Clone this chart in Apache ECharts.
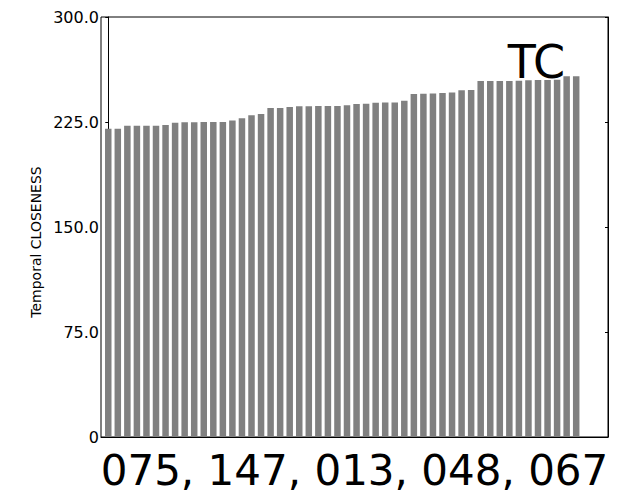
<!DOCTYPE html>
<html>
<head>
<meta charset="utf-8">
<script src="https://cdn.jsdelivr.net/npm/echarts@6/dist/echarts.min.js"></script>
<style>html,body{margin:0;padding:0;background:#fff;}#c{width:621px;height:493px;}</style>
</head>
<body>
<div id="c"></div>
<script>
const barValues = [220.2, 220.2, 222.4, 222.4, 222.4, 222.4, 222.9, 224.5, 224.8, 224.8,
  225.0, 225.0, 225.0, 226.0, 227.6, 229.8, 230.7, 235.0, 235.0, 235.7,
  236.2, 236.2, 236.4, 236.4, 236.4, 236.9, 237.9, 238.1, 238.8, 239.0,
  239.0, 240.2, 245.0, 245.2, 245.4, 245.7, 246.0, 247.6, 247.9, 254.3,
  254.3, 254.3, 254.3, 254.5, 254.8, 255.0, 255.0, 255.2, 257.6, 257.6];
const yTicks = [0, 75, 150, 225, 300];
const yTickLabels = ['0', '75.0', '150.0', '225.0', '300.0'];
const yAxisTitle = 'Temporal CLOSENESS';
const xAxisTitle = '075, 147, 013, 048, 067';
const chartTitle = 'TC';

const FONT = 'DejaVu Sans';
const chart = echarts.init(document.getElementById('c'), null, {renderer: 'svg'});
const barData = barValues.map((v, i) => [i, v]);
chart.setOption({
  animation: false,
  backgroundColor: '#fff',
  grid: {left: 101, right: 13, top: 17, bottom: 56, show: true, borderColor: '#000', borderWidth: 1, backgroundColor: 'transparent'},
  xAxis: {
    type: 'value', min: -0.76, max: 52.33,
    axisLine: {show: true, lineStyle: {color: '#000', width: 1}},
    axisTick: {show: false}, axisLabel: {show: false}, splitLine: {show: false}
  },
  yAxis: [{
    type: 'value', min: yTicks[0], max: yTicks[yTicks.length - 1], interval: 75,
    axisLine: {show: true, lineStyle: {color: '#000', width: 1}},
    axisTick: {show: true, length: 3, inside: false, lineStyle: {color: '#000'}},
    axisLabel: {margin: 2, color: '#000', fontFamily: FONT, fontSize: 16,
      formatter: v => yTickLabels[yTicks.indexOf(v)]},
    splitLine: {show: false}
  }, {
    type: 'value', position: 'right', min: yTicks[0], max: yTicks[yTicks.length - 1], interval: 75,
    axisLine: {show: true, lineStyle: {color: '#000', width: 1}},
    axisTick: {show: true, length: 3, inside: true, lineStyle: {color: '#000'}},
    axisLabel: {show: false}, splitLine: {show: false}
  }],
  series: [{
    type: 'bar', data: barData, barWidth: 6.5,
    itemStyle: {color: '#808080'}, silent: true
  }],
  graphic: [
    {type: 'text', x: 36, y: 242, rotation: Math.PI / 2,
      style: {text: yAxisTitle, fontFamily: FONT, fontSize: 14, fill: '#000', align: 'center', verticalAlign: 'middle'}},
    {type: 'text', x: 354.5, y: 470,
      style: {text: xAxisTitle, fontFamily: FONT, fontSize: 42, lineHeight: 42, fill: '#000', align: 'center', verticalAlign: 'middle'}},
    {type: 'text', x: 536.4, y: 62.2,
      style: {text: chartTitle, fontFamily: FONT, fontSize: 46, fill: '#000', align: 'center', verticalAlign: 'middle'}}
  ]
});
</script>
</body>
</html>
